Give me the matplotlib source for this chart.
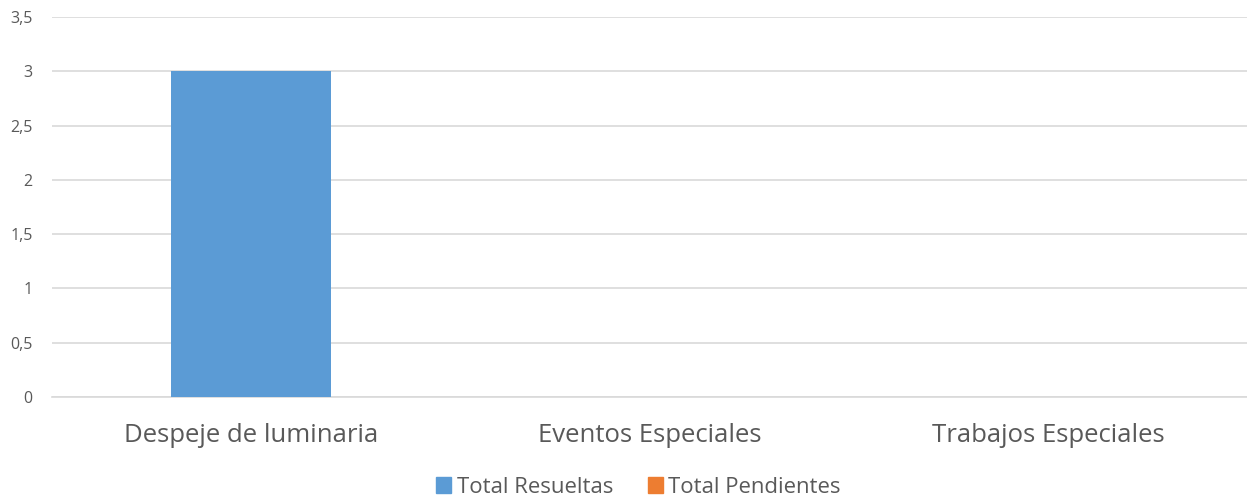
import matplotlib
matplotlib.use("Agg")
import matplotlib.pyplot as plt
from matplotlib.patches import Patch
from matplotlib.ticker import FuncFormatter
import numpy as np

categories = ["Despeje de luminaria", "Eventos Especiales", "Trabajos Especiales"]
resueltas = [3, 0, 0]
pendientes = [0, 0, 0]
series_names = ["Total Resueltas", "Total Pendientes"]

blue = "#5B9BD5"
orange = "#ED7D31"
text_col = "#595959"
grid_col = "#D9D9D9"

plt.rcParams["font.family"] = ["Open Sans", "DejaVu Sans"]

fig = plt.figure(figsize=(12.47, 5.0), dpi=100)
ax = fig.add_axes([52 / 1247, 1 - 397 / 500, 1 - 52 / 1247, 380 / 500])

x = np.arange(len(categories))
ax.bar(x, resueltas, width=0.402, color=blue, zorder=3)
ax.bar(x, pendientes, width=0.402, color=orange, zorder=3)

ax.set_xlim(-0.5, 2.5)
ax.set_ylim(0, 3.5)
ax.set_yticks(np.arange(0, 3.51, 0.5))
ax.yaxis.set_major_formatter(FuncFormatter(lambda v, p: ("%g" % v).replace(".", ",")))
ax.grid(axis="y", color=grid_col, linewidth=1.2, zorder=0)
ax.set_axisbelow(True)
for s in ["top", "right", "left"]:
    ax.spines[s].set_visible(False)
ax.spines["bottom"].set_color(grid_col)
ax.spines["bottom"].set_linewidth(1.2)

ax.set_xticks(x)
ax.set_xticklabels(categories, fontsize=18.5, color=text_col)
ax.tick_params(axis="x", length=0, pad=19)
ax.tick_params(axis="y", length=0, pad=14, labelsize=11.5, labelcolor=text_col)

handles = [Patch(color=blue), Patch(color=orange)]
fig.legend(handles, series_names, loc="lower center", bbox_to_anchor=(0.512, -0.035),
           ncol=2, frameon=False, fontsize=15.9, labelcolor=text_col,
           handlelength=0.7, handleheight=0.7, handletextpad=0.25, columnspacing=1.55)

fig.savefig("out.png", dpi=100)
